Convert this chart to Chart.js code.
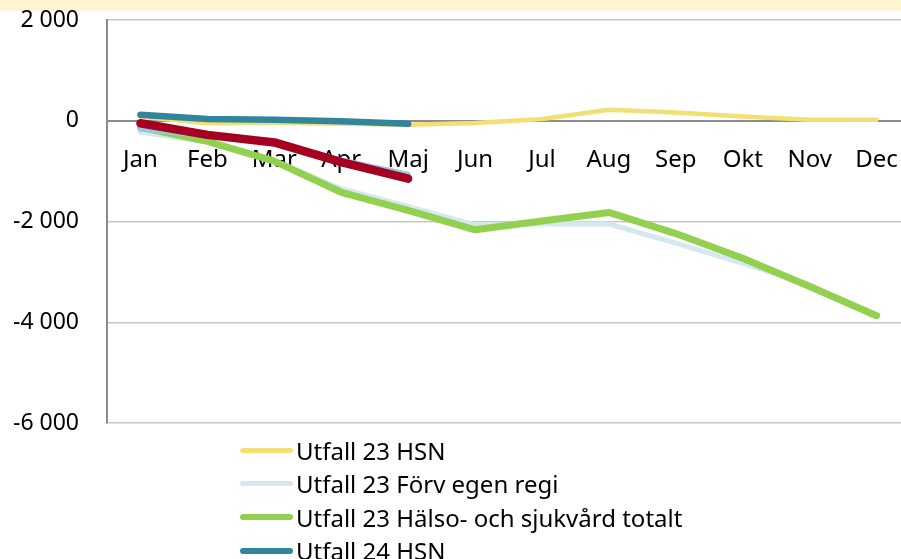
<!DOCTYPE html>
<html>
<head>
<meta charset="utf-8">
<script src="https://cdn.jsdelivr.net/npm/chart.js@4.4.1/dist/chart.umd.min.js"></script>
<style>
	html, body {
		margin: 0;
		padding: 0;
		width: 901px;
		height: 559px;
		overflow: hidden;
		background: #fff;
		font-family: "Noto Sans", sans-serif;
	}
	#band {
		position: absolute;
		left: 0;
		top: 0;
		width: 901px;
		height: 11px;
		background: #fff5d4;
	}
	#wrap {
		position: absolute;
		left: 0;
		top: 0;
		width: 923px;
		height: 445px;
	}
	#legend {
		position: absolute;
		left: 240px;
		top: 434px;
	}
	.item {
		height: 33.3px;
		display: flex;
		align-items: center;
		font-size: 24px;
		color: #000;
		white-space: nowrap;
	}
	.swatch {
		display: inline-block;
		width: 53px;
		border-radius: 3px;
		margin-right: 3px;
	}
</style>
</head>
<body>
<div id="band"></div>
<div id="wrap"><canvas id="chart" width="923" height="445"></canvas></div>
<div id="legend"></div>
<script>
	var months = ["Jan", "Feb", "Mar", "Apr", "Maj", "Jun", "Jul", "Aug", "Sep", "Okt", "Nov", "Dec"];

	var seriesNames = [
		"Utfall 23 HSN",
		"Utfall 23 Förv egen regi",
		"Utfall 23 Hälso- och sjukvård totalt",
		"Utfall 24 HSN",
		"Utfall 24 Förv egen regi",
		"Utfall 24 Hälso- och sjukvård totalt",
	];

	var hsn23 = [80, -50, -40, -60, -80, -45, 35, 220, 165, 85, 20, 20];
	var forv23 = [-230, -420, -790, -1350, -1700, -2070, -2050, -2050, -2430, -2830, -3260, -3870];
	var hos23 = [-130, -410, -800, -1420, -1780, -2165, -1990, -1820, -2240, -2730, -3290, -3870];
	var hsn24 = [120, 35, 20, -10, -60];
	var forv24 = [-170, -300, -420, -780, -1060];
	var hos24 = [-50, -280, -430, -820, -1150];

	var yTicks = [2000, 0, -2000, -4000, -6000];

	var colours = ["#f4de76", "#d4e9ef", "#92d050", "#31859c", "#93cddd", "#a50021"];
	var widths = [4.5, 5, 7, 6.5, 5, 8.5];

	var values = [hsn23, forv23, hos23, hsn24, forv24, hos24];

	var formatNumber = function (v) {
		var s = String(Math.abs(v)).replace(/\B(?=(\d{3})+(?!\d))/g, " ");
		return (v < 0 ? "-" : "") + s;
	};

	var datasets = values.map(function (data, i) {
		return {
			label: seriesNames[i],
			data: data,
			borderColor: colours[i],
			backgroundColor: colours[i],
			borderWidth: widths[i],
			borderCapStyle: "round",
			borderJoinStyle: "round",
			pointRadius: 0,
			tension: 0,
			fill: false,
			// later series are drawn on top, as in the original
			order: values.length - i,
		};
	});

	Chart.defaults.font.family = "'Noto Sans', sans-serif";
	Chart.defaults.color = "#000";

	new Chart(document.getElementById("chart"), {
		type: "line",
		data: {
			labels: months,
			datasets: datasets,
		},
		options: {
			responsive: false,
			animation: false,
			layout: {
				padding: { left: 14, top: 20, right: 3, bottom: 22 },
			},
			plugins: {
				legend: { display: false },
				tooltip: { enabled: false },
			},
			scales: {
				x: {
					position: { y: 0 },
					offset: true,
					afterFit: function (axis) {
						axis.height = 0;
					},
					grid: { display: false, drawTicks: false },
					border: { display: true, color: "#8c8c8c", width: 2 },
					ticks: {
						padding: 25,
						font: { size: 24 },
						maxRotation: 0,
						autoSkip: false,
					},
				},
				y: {
					min: -6000,
					max: 2000,
					afterFit: function (axis) {
						axis.width = 93;
						// the tick padding is meant for the labels only
						axis.paddingTop = 0;
						axis.paddingBottom = 0;
					},
					afterBuildTicks: function (axis) {
						axis.ticks = yTicks.map(function (v) {
							return { value: v };
						});
					},
					grid: { color: "#c8c8c8", lineWidth: 1.5, drawTicks: false },
					border: { display: true, color: "#8c8c8c", width: 2 },
					ticks: {
						padding: 28,
						font: { size: 23 },
						callback: function (v) {
							return formatNumber(v);
						},
					},
				},
			},
		},
	});

	var legend = document.getElementById("legend");
	datasets.forEach(function (ds) {
		var row = document.createElement("div");
		row.className = "item";
		var sw = document.createElement("span");
		sw.className = "swatch";
		sw.style.background = ds.borderColor;
		sw.style.height = Math.min(ds.borderWidth, 6) + "px";
		row.appendChild(sw);
		row.appendChild(document.createTextNode(ds.label));
		legend.appendChild(row);
	});
</script>
</body>
</html>
